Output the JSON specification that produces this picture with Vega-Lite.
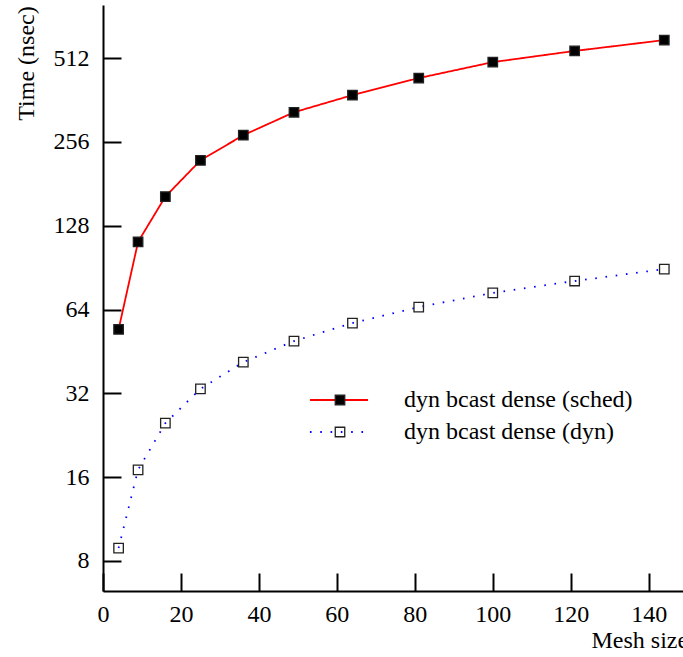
{
  "$schema": "https://vega.github.io/schema/vega-lite/v6.json",
  "width": 580,
  "height": 586,
  "autosize": {"type": "none"},
  "padding": {"left": 103, "top": 5, "right": 0, "bottom": 66},
  "background": "white",
  "config": {
    "view": {"stroke": null},
    "font": "Liberation Serif",
    "axis": {
      "domainColor": "black",
      "domainWidth": 2,
      "tickColor": "black",
      "tickWidth": 2,
      "tickSize": -18,
      "labelFont": "Liberation Serif",
      "labelFontSize": 24,
      "labelColor": "black",
      "titleFont": "Liberation Serif",
      "titleFontSize": 24,
      "titleFontWeight": "normal",
      "titleColor": "black",
      "grid": false
    },
    "legend": {
      "labelFont": "Liberation Serif",
      "labelFontSize": 24,
      "labelColor": "black",
      "labelLimit": 0,
      "padding": 0,
      "rowPadding": 8
    }
  },
  "data": {
    "values": [
      {"n": 4, "t": 54.3, "series": "dyn bcast dense (sched)", "marker": "dyn bcast dense (sched)"},
      {"n": 9, "t": 112, "series": "dyn bcast dense (sched)", "marker": "dyn bcast dense (sched)"},
      {"n": 16, "t": 162.8, "series": "dyn bcast dense (sched)", "marker": "dyn bcast dense (sched)"},
      {"n": 25, "t": 219.7, "series": "dyn bcast dense (sched)", "marker": "dyn bcast dense (sched)"},
      {"n": 36, "t": 270.5, "series": "dyn bcast dense (sched)", "marker": "dyn bcast dense (sched)"},
      {"n": 49, "t": 327, "series": "dyn bcast dense (sched)", "marker": "dyn bcast dense (sched)"},
      {"n": 64, "t": 376.8, "series": "dyn bcast dense (sched)", "marker": "dyn bcast dense (sched)"},
      {"n": 81, "t": 433.8, "series": "dyn bcast dense (sched)", "marker": "dyn bcast dense (sched)"},
      {"n": 100, "t": 495, "series": "dyn bcast dense (sched)", "marker": "dyn bcast dense (sched)"},
      {"n": 121, "t": 543, "series": "dyn bcast dense (sched)", "marker": "dyn bcast dense (sched)"},
      {"n": 144, "t": 594, "series": "dyn bcast dense (sched)", "marker": "dyn bcast dense (sched)"},
      {"n": 4, "t": 8.9, "series": "dyn bcast dense (dyn)", "marker": "dyn bcast dense (dyn)"},
      {"n": 9, "t": 17.0, "series": "dyn bcast dense (dyn)", "marker": "dyn bcast dense (dyn)"},
      {"n": 16, "t": 25.0, "series": "dyn bcast dense (dyn)", "marker": "dyn bcast dense (dyn)"},
      {"n": 25, "t": 33.2, "series": "dyn bcast dense (dyn)", "marker": "dyn bcast dense (dyn)"},
      {"n": 36, "t": 41.4, "series": "dyn bcast dense (dyn)", "marker": "dyn bcast dense (dyn)"},
      {"n": 49, "t": 49.3, "series": "dyn bcast dense (dyn)", "marker": "dyn bcast dense (dyn)"},
      {"n": 64, "t": 57.2, "series": "dyn bcast dense (dyn)", "marker": "dyn bcast dense (dyn)"},
      {"n": 81, "t": 65.3, "series": "dyn bcast dense (dyn)", "marker": "dyn bcast dense (dyn)"},
      {"n": 100, "t": 73.4, "series": "dyn bcast dense (dyn)", "marker": "dyn bcast dense (dyn)"},
      {"n": 121, "t": 81.0, "series": "dyn bcast dense (dyn)", "marker": "dyn bcast dense (dyn)"},
      {"n": 144, "t": 89.4, "series": "dyn bcast dense (dyn)", "marker": "dyn bcast dense (dyn)"}
    ]
  },
  "encoding": {
    "x": {
      "field": "n",
      "type": "quantitative",
      "scale": {"domain": [0, 148.8], "nice": false, "zero": false},
      "axis": {
        "values": [0, 20, 40, 60, 80, 100, 120, 140],
        "title": "Mesh size",
        "labelPadding": 29,
        "labelFlush": false,
        "titleX": 488,
        "titleY": 56,
        "titleAlign": "left",
        "titleAnchor": null,
        "titleBaseline": "alphabetic"
      }
    },
    "y": {
      "field": "t",
      "type": "quantitative",
      "scale": {"type": "log", "base": 2, "domain": [6.24, 794], "nice": false},
      "axis": {
        "values": [8, 16, 32, 64, 128, 256, 512],
        "title": "Time (nsec)",
        "labelPadding": 32,
        "labelFlush": false,
        "titleX": -70,
        "titleY": 58,
        "titleAngle": -90,
        "titleAlign": "center",
        "titleAnchor": null,
        "titleBaseline": "alphabetic"
      }
    }
  },
  "layer": [
    {
      "mark": {"type": "line", "strokeWidth": 1.8},
      "encoding": {
        "color": {
          "field": "series",
          "type": "nominal",
          "sort": null,
          "scale": {"domain": ["dyn bcast dense (sched)", "dyn bcast dense (dyn)"], "range": ["#ff0000", "#0000ff"]},
          "legend": {
            "title": null,
            "orient": "none",
            "legendX": 224,
            "legendY": 383,
            "symbolType": "M-5,0L5,0",
            "symbolSize": 135,
            "symbolStrokeWidth": 1.8,
            "labelOffset": 53
          }
        },
        "strokeDash": {
          "field": "series",
          "type": "nominal",
          "sort": null,
          "scale": {"domain": ["dyn bcast dense (sched)", "dyn bcast dense (dyn)"], "range": [[1, 0], [1.6, 8.7]]},
          "legend": {
            "title": null,
            "orient": "none",
            "legendX": 224,
            "legendY": 383,
            "symbolType": "M-5,0L5,0",
            "symbolSize": 135,
            "symbolStrokeWidth": 1.8,
            "labelOffset": 53
          }
        }
      }
    },
    {
      "mark": {"type": "point", "shape": "square", "size": 90, "strokeWidth": 1.3, "stroke": "#222222", "opacity": 1},
      "encoding": {
        "fill": {
          "field": "marker",
          "type": "nominal",
          "sort": null,
          "scale": {"range": ["#000000", "transparent"]},
          "legend": {
            "title": null,
            "orient": "none",
            "legendX": 225,
            "legendY": 383,
            "symbolType": "square",
            "symbolSize": 90,
            "symbolStrokeColor": "#222222",
            "symbolStrokeWidth": 1.3,
            "symbolOpacity": 1,
            "labelExpr": "' '",
            "labelOpacity": 0
          }
        }
      }
    }
  ]
}
